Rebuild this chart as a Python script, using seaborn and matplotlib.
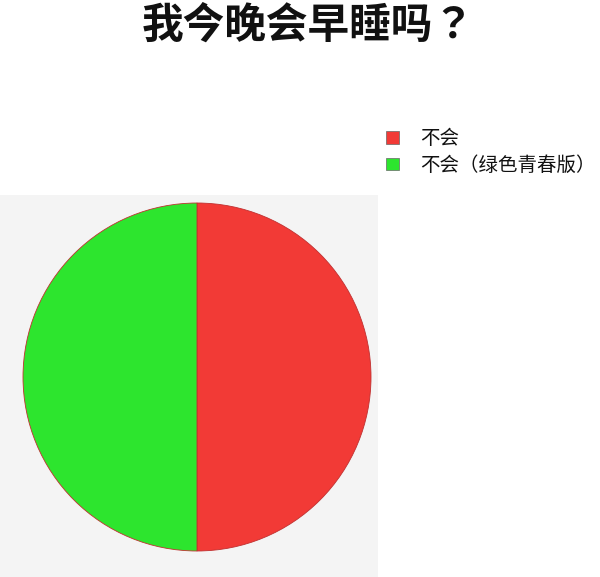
import matplotlib
matplotlib.use('Agg')
import matplotlib.pyplot as plt
import seaborn as sns

labels = ['不会', '不会（绿色青春版）']
values = [50, 50]
colors = ['#f23a36', '#2de52e']

sns.set_theme(style='white')
plt.rcParams['font.family'] = ['Noto Sans CJK SC', 'DejaVu Sans']

fig = plt.figure(figsize=(6, 5.77), dpi=100)

# grey panel behind the pie
bg = fig.add_axes([0, 0, 378 / 600, 382 / 577])
bg.set_facecolor('#f4f4f4')
bg.set_xticks([])
bg.set_yticks([])
for s in bg.spines.values():
    s.set_visible(False)

ax = fig.add_axes([23 / 600, 26 / 577, 348 / 600, 348 / 577])
ax.set_facecolor('none')
wedges, _ = ax.pie(values, colors=colors, startangle=90, counterclock=False,
                   radius=1, wedgeprops={'linewidth': 0.6, 'edgecolor': '#c03030'})
ax.set_xlim(-1, 1)
ax.set_ylim(-1, 1)
ax.set_aspect('equal')
ax.axis('off')

fig.text(308 / 600, 1 - 26 / 577, '我今晚会早睡吗？', ha='center', va='center',
         fontsize=30, fontweight='bold', color='#111111',
         family=['Noto Sans CJK TC', 'DejaVu Sans'])

leg = fig.legend(wedges, labels, loc='upper left',
                 bbox_to_anchor=(386 / 600, 1 - 128 / 577), frameon=False,
                 borderaxespad=0, borderpad=0,
                 fontsize=14, handlelength=0.65, handleheight=0.65,
                 handletextpad=1.1, labelspacing=0.3)
for h in leg.legend_handles:
    h.set_edgecolor('#666666')
    h.set_linewidth(0.5)
for t in leg.get_texts():
    t.set_fontweight('medium')
    t.set_color('#111111')

plt.savefig('out.png', dpi=100)
